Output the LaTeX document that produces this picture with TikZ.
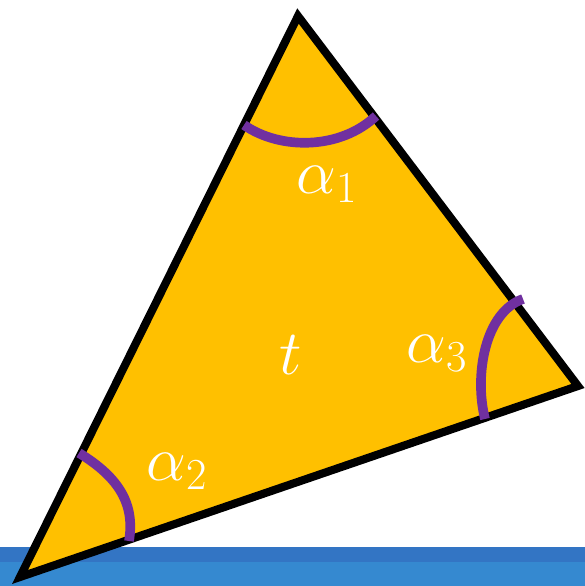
\RequirePackage{fix-cm}
\documentclass[tikz,border=0pt]{standalone}
\usetikzlibrary{positioning}
\definecolor{amber}{RGB}{255,192,0}
\definecolor{plum}{RGB}{112,48,160}
\definecolor{steelblue}{RGB}{51,117,196}
\definecolor{skyblue}{RGB}{53,137,208}

\begin{document}
\begin{tikzpicture}[
        x=0.02cm, y=-0.02cm,
        side/.style={draw=black, line width=4.6pt, fill=amber},
        anglearc/.style={draw=plum, line width=5.5pt},
        lbl/.style={text=white, font=\fontsize{36}{42}\selectfont, anchor=base, inner sep=0pt}
    ]
    \useasboundingbox (0,0) rectangle (585,586);

    % ground
    \fill[steelblue] (0,547) rectangle (585,562);
    \fill[skyblue] (0,562) rectangle (585,586);

    % triangle
    \coordinate (top) at (298,16);
    \coordinate (right) at (578,386);
    \coordinate (left) at (20,577);
    \draw[side] (top) -- (right) -- (left) -- cycle;

    % angle marks
    \draw[anglearc] (244,125) .. controls (280,150) and (340,150) .. (376,116);
    \draw[anglearc] (523,299) .. controls (485,312) and (474,375) .. (485,419);
    \draw[anglearc] (79,453) .. controls (120,478) and (135,505) .. (129,541);

    % labels
    \node[lbl] (a1) at (327,193) {$\alpha_1$};
    \node[lbl] (a2) at (177,480) {$\alpha_2$};
    \node[lbl] (a3) at (437,362) {$\alpha_3$};
    \node[lbl] (area) at (291,374) {$t$};
\end{tikzpicture}
\end{document}
